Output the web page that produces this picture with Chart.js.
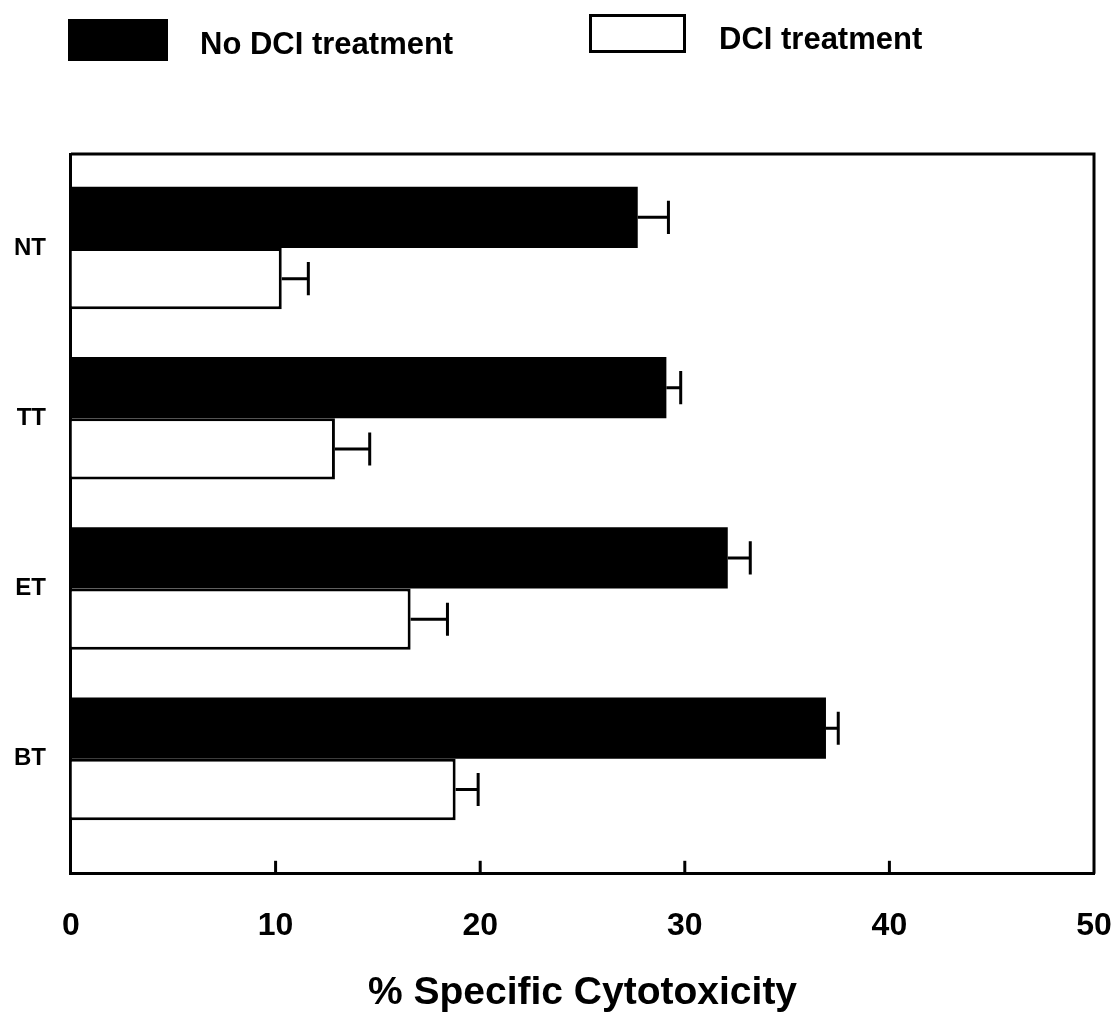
<!DOCTYPE html>
<html>
<head>
<meta charset="utf-8">
<script src="https://cdn.jsdelivr.net/npm/chart.js@4/dist/chart.umd.min.js"></script>
<style>
  html, body { margin: 0; padding: 0; background: #fff; }
  #wrap { width: 1115px; height: 1017px; }
</style>
</head>
<body>
<div id="wrap"><canvas id="chart" width="1115" height="1017"></canvas></div>
<script>
// values
const categories = ['NT', 'TT', 'ET', 'BT'];
const noDciValues = [27.7, 29.1, 32.1, 36.9];
const noDciErrors = [1.5, 0.7, 1.1, 0.6];
const dciValues = [10.3, 12.9, 16.6, 18.8];
const dciErrors = [1.3, 1.7, 1.8, 1.1];
const xTicks = [0, 10, 20, 30, 40, 50];
const innerTicks = [10, 20, 30, 40];

const FONT = '"Liberation Sans", Arial, Helvetica, sans-serif';

const toPoints = vals => vals.map((v, i) => ({ x: v, y: i }));

// error bars: line from bar end to value+err, with a cap
const errorBars = {
  id: 'errorBars',
  afterDatasetsDraw(chart) {
    const ctx = chart.ctx;
    const xs = chart.scales.x;
    ctx.save();
    ctx.strokeStyle = '#000';
    ctx.lineWidth = 3;
    chart.data.datasets.forEach((ds, di) => {
      const meta = chart.getDatasetMeta(di);
      meta.data.forEach((bar, j) => {
        const end = xs.getPixelForValue(ds.data[j].x + ds.errors[j]);
        const half = bar.height * 0.27;
        ctx.beginPath();
        ctx.moveTo(bar.x, bar.y);
        ctx.lineTo(end, bar.y);
        ctx.moveTo(end, bar.y - half);
        ctx.lineTo(end, bar.y + half);
        ctx.stroke();
      });
    });
    ctx.restore();
  }
};

// top/right frame and inner tick marks on the bottom axis
const frame = {
  id: 'frame',
  afterDraw(chart) {
    const { ctx, chartArea: a } = chart;
    const xs = chart.scales.x;
    ctx.save();
    ctx.strokeStyle = '#000';
    ctx.lineWidth = 3;
    ctx.beginPath();
    ctx.moveTo(a.left, a.top);
    ctx.lineTo(a.right, a.top);
    ctx.lineTo(a.right, a.bottom);
    ctx.stroke();
    innerTicks.forEach(t => {
      const x = xs.getPixelForValue(t);
      ctx.beginPath();
      ctx.moveTo(x, a.bottom);
      ctx.lineTo(x, a.bottom - 13);
      ctx.stroke();
    });
    ctx.restore();
  }
};

// legend at the top, laid out like the original figure
const topLegend = {
  id: 'topLegend',
  afterDraw(chart) {
    const ctx = chart.ctx;
    const items = [
      { box: [68, 19, 100, 42], textX: 200, textY: 45 },
      { box: [589, 14, 97, 39], textX: 719, textY: 40 }
    ];
    ctx.save();
    ctx.font = 'bold 31px ' + FONT;
    ctx.textBaseline = 'middle';
    chart.data.datasets.forEach((ds, i) => {
      const it = items[i];
      const [x, y, w, h] = it.box;
      ctx.fillStyle = ds.backgroundColor;
      ctx.fillRect(x, y, w, h);
      if (ds.borderWidth) {
        ctx.strokeStyle = '#000';
        ctx.lineWidth = 3;
        ctx.strokeRect(x + 1.5, y + 1.5, w - 3, h - 3);
      }
      ctx.fillStyle = '#000';
      ctx.fillText(ds.label, it.textX, it.textY);
    });
    ctx.restore();
  }
};

const hiddenTicks = len => ({
  display: true,
  drawOnChartArea: false,
  drawTicks: true,
  tickLength: len,
  tickColor: 'rgba(0,0,0,0)'
});

new Chart(document.getElementById('chart'), {
  type: 'bar',
  data: {
    datasets: [
      {
        label: 'No DCI treatment',
        data: toPoints(noDciValues),
        errors: noDciErrors,
        backgroundColor: '#000',
        borderWidth: 0
      },
      {
        label: 'DCI treatment',
        data: toPoints(dciValues),
        errors: dciErrors,
        backgroundColor: '#fff',
        borderColor: '#000',
        borderWidth: 3
      }
    ]
  },
  options: {
    indexAxis: 'y',
    responsive: false,
    animation: false,
    categoryPercentage: 0.72,
    barPercentage: 1.0,
    layout: { padding: { top: 154, left: 11, right: 21, bottom: 0 } },
    plugins: { legend: { display: false }, tooltip: { enabled: false } },
    scales: {
      x: {
        type: 'linear',
        min: 0,
        max: 50,
        afterBuildTicks: s => { s.ticks = xTicks.map(v => ({ value: v })); },
        grid: hiddenTicks(30),
        border: { display: true, color: '#000', width: 3 },
        ticks: { color: '#000', padding: 3, maxRotation: 0, font: { family: FONT, size: 32, weight: 'bold' } },
        title: {
          display: true,
          text: '% Specific Cytotoxicity',
          color: '#000',
          font: { family: FONT, size: 39, weight: 'bold' },
          padding: { top: 22, bottom: 0 }
        }
      },
      y: {
        type: 'linear',
        reverse: true,
        offset: false,
        min: -0.552,
        max: 3.675,
        afterBuildTicks: s => { s.ticks = categories.map((c, i) => ({ value: i })); },
        grid: hiddenTicks(22),
        border: { display: true, color: '#000', width: 3 },
        ticks: {
          color: '#000',
          padding: 3,
          font: { family: FONT, size: 24, weight: 'bold' },
          callback: v => categories[v]
        }
      }
    }
  },
  plugins: [errorBars, frame, topLegend]
});
</script>
</body>
</html>
